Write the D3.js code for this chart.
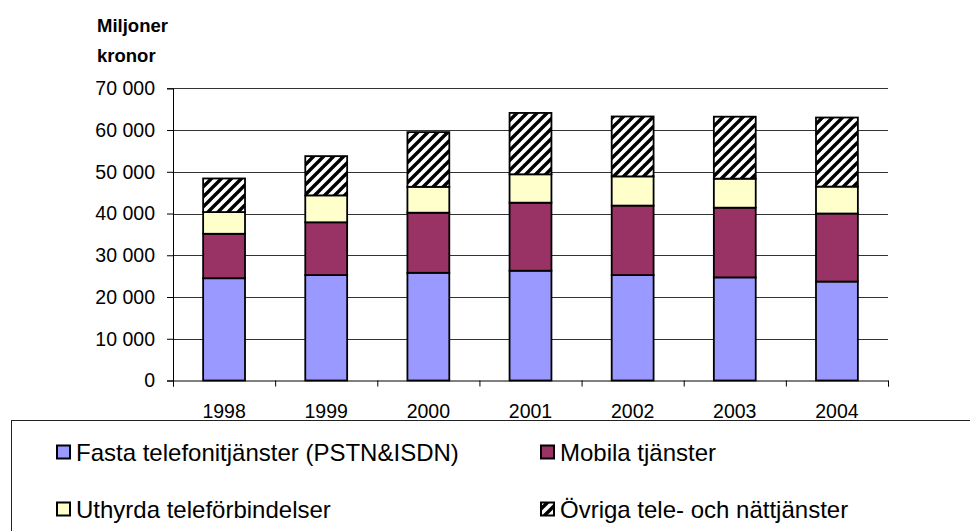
<!DOCTYPE html>
<html lang="sv">
<head>
<meta charset="utf-8">
<title>Miljoner kronor</title>
<script src="https://d3js.org/d3.v7.min.js"></script>
<style>
  body { margin: 0; background: #fff; }
  svg { display: block; font-family: Arial, "Liberation Sans", sans-serif; }
</style>
</head>
<body>
<chart></chart>
<script>
// values, miljoner kronor
const years = ["1998", "1999", "2000", "2001", "2002", "2003", "2004"];
const fixed  = [24500, 25250, 25800, 26300, 25250, 24700, 23700];
const mobile = [10650, 12650, 14400, 16300, 16650, 16700, 16300];
const leased = [5200, 6450, 6200, 6800, 7000, 6950, 6450];
const other  = [8050, 9400, 13100, 14700, 14350, 14850, 16550];
const seriesNames = [
  "Fasta telefonitjänster (PSTN&ISDN)",
  "Mobila tjänster",
  "Uthyrda teleförbindelser",
  "Övriga tele- och nättjänster"
];
const yTicks = [0, 10000, 20000, 30000, 40000, 50000, 60000, 70000];

const keys = ["fixed", "mobile", "leased", "other"];
const fills = ["#9999ff", "#993366", "#ffffcc", "url(#hatch)"];

const data = years.map((y, i) => ({
  year: y, fixed: fixed[i], mobile: mobile[i], leased: leased[i], other: other[i]
}));
const stacked = d3.stack().keys(keys)(data);

const width = 970, height = 531;
const plot = { left: 173, right: 888, top: 88.3, bottom: 380.5 };

const svg = d3.select("chart").append("svg")
  .attr("width", width)
  .attr("height", height);

// diagonal hatch for the last series
const pat = svg.append("defs").append("pattern")
  .attr("id", "hatch")
  .attr("patternUnits", "userSpaceOnUse")
  .attr("width", 10).attr("height", 10);
pat.append("rect").attr("width", 10).attr("height", 10).attr("fill", "#fff");
pat.append("path")
  .attr("d", "M-1,11 L11,-1 M-6,6 L6,-6 M4,16 L16,4")
  .attr("stroke", "#000").attr("stroke-width", 3.4);

const x = d3.scaleBand()
  .domain(years)
  .range([plot.left, plot.right])
  .paddingInner(0.59)
  .paddingOuter(0.295);

const y = d3.scaleLinear()
  .domain([0, 70000])
  .range([plot.bottom, plot.top]);

// gridlines
svg.append("g")
  .selectAll("line")
  .data(yTicks.filter(d => d > 0))
  .join("line")
  .attr("x1", plot.left).attr("x2", plot.right)
  .attr("y1", d => Math.round(y(d)) + 0.5)
  .attr("y2", d => Math.round(y(d)) + 0.5)
  .attr("stroke", "#333")
  .attr("stroke-width", 1);

// bars
svg.append("g")
  .selectAll("g")
  .data(stacked)
  .join("g")
  .attr("fill", (d, i) => fills[i])
  .selectAll("rect")
  .data(d => d)
  .join("rect")
  .attr("x", d => x(d.data.year))
  .attr("y", d => y(d[1]))
  .attr("width", x.bandwidth())
  .attr("height", d => y(d[0]) - y(d[1]))
  .attr("stroke", "#000")
  .attr("stroke-width", 1.8);

// y axis
const fmt = d => d3.format(",")(d).replace(/,/g, " ");
const yAxis = svg.append("g")
  .attr("transform", `translate(${plot.left},0)`)
  .call(d3.axisLeft(y).tickValues(yTicks).tickFormat(fmt).tickSize(6).tickPadding(12));
yAxis.select(".domain").attr("stroke", "#000");
yAxis.selectAll(".tick line").attr("stroke", "#000");
yAxis.selectAll("text").attr("font-size", "19.5px").attr("fill", "#000")
  .attr("font-family", "Arial, 'Liberation Sans', sans-serif");

// x axis: ticks at category boundaries, labels at centres
const xb = d3.scaleLinear().domain([0, years.length]).range([plot.left, plot.right]);
const xAxis = svg.append("g")
  .attr("transform", `translate(0,${plot.bottom})`)
  .call(d3.axisBottom(xb).tickValues(d3.range(years.length + 1)).tickFormat("").tickSize(6));
xAxis.select(".domain").attr("stroke", "#000");
xAxis.selectAll(".tick line").attr("stroke", "#000");

svg.append("g")
  .selectAll("text")
  .data(years)
  .join("text")
  .attr("x", d => x(d) + x.bandwidth() / 2)
  .attr("y", 417.5)
  .attr("text-anchor", "middle")
  .attr("font-size", "19.5px")
  .text(d => d);

// unit label
svg.append("text")
  .attr("x", 97).attr("y", 32)
  .attr("font-size", "18.5px").attr("font-weight", "bold")
  .text("Miljoner");
svg.append("text")
  .attr("x", 97).attr("y", 62)
  .attr("font-size", "18.5px").attr("font-weight", "bold")
  .text("kronor");

// legend
svg.append("rect")
  .attr("x", 11.5).attr("y", 420.5)
  .attr("width", 1000).attr("height", 200)
  .attr("fill", "#fff").attr("stroke", "#222").attr("stroke-width", 1);

const legendPos = [[57, 452], [541, 452], [57, 509], [541, 509]];
const lg = svg.append("g")
  .selectAll("g")
  .data(seriesNames)
  .join("g")
  .attr("transform", (d, i) => `translate(${legendPos[i][0]},${legendPos[i][1]})`);
lg.append("rect")
  .attr("x", 0).attr("y", -6.5)
  .attr("width", 13).attr("height", 13)
  .attr("fill", (d, i) => fills[i])
  .attr("stroke", "#000").attr("stroke-width", 2);
lg.append("text")
  .attr("x", 19).attr("y", 8.5)
  .attr("font-size", "24px")
  .text(d => d);
</script>
</body>
</html>
